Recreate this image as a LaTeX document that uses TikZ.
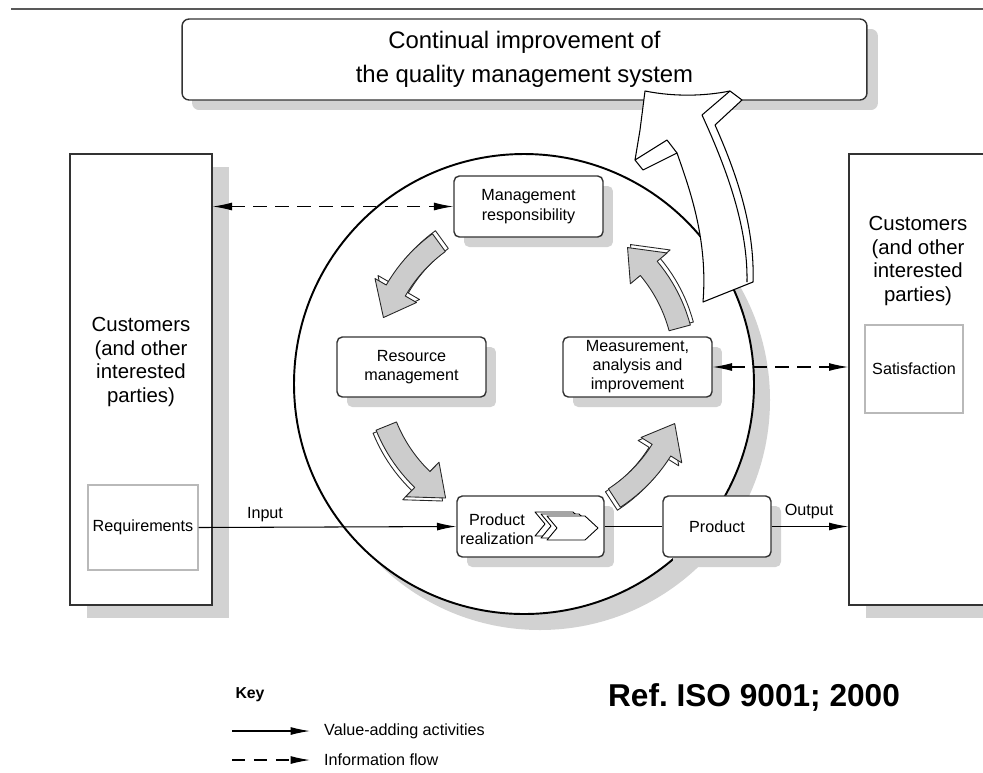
\documentclass[tikz,border=0pt]{standalone}
\usepackage{fontspec}
\setmainfont{Liberation Sans}
\usetikzlibrary{arrows.meta,shadows}

\begin{document}
\begin{tikzpicture}[x=0.02cm, y=-0.02cm, % pixel-like units, y grows downward
    >={Latex[length=11pt,width=4.5pt]},
    box/.style={draw=black!80, fill=white, rounded corners=3pt, line width=0.8pt,
      align=center, inner sep=0pt, font=\fontsize{9.2}{11}\selectfont,
      general shadow={fill=gray!35, shadow xshift=0.2cm, shadow yshift=-0.2cm}},
    party/.style={draw=black!80, fill=white, line width=0.8pt, inner sep=0pt,
      general shadow={fill=gray!35, shadow xshift=0.34cm, shadow yshift=-0.26cm}},
    inbox/.style={draw=gray!55, fill=white, line width=0.6pt, inner sep=0pt,
      font=\fontsize{9.2}{11}\selectfont},
    partytext/.style={align=center, font=\fontsize{11.6}{13.4}\selectfont},
    small/.style={font=\fontsize{9.2}{11}\selectfont},
    flow/.style={->, line width=0.6pt},
    info/.style={line width=0.6pt, dash pattern=on 7.5pt off 5pt},
    ring/.style={draw=black, fill=white, line width=1.1pt,
      general shadow={fill=gray!35, shadow xshift=0.32cm, shadow yshift=-0.32cm}},
    ringfront/.style={draw=black!85, fill=gray!40, line width=0.5pt, line join=round},
    ringback/.style={draw=black!85, fill=white, line width=0.5pt, line join=round},
    ringarrow/.style={insert path={
      plot[domain=\ta:\hb, samples=12] ({530+166*cos(\x)}, {368+166*sin(\x)})
      -- ({530+179*cos(\hb)}, {368+179*sin(\hb)})
      -- ({530+155*cos(\tb)}, {368+155*sin(\tb)})
      -- ({530+131*cos(\hb)}, {368+131*sin(\hb)})
      -- plot[domain=\hb:\ta, samples=12] ({530+144*cos(\x)}, {368+144*sin(\x)})
      -- cycle}},
    bigarrow/.style={draw=black, fill=white, line width=0.6pt, line join=round},
    chevron/.style={draw=black, fill=white, line width=0.5pt, line join=round}
  ]

  \path[use as bounding box] (0,0) rectangle (983,772);
  \clip (0,0) rectangle (983,772);

  % Rule at the top
  \draw[gray!70!black, line width=1.2pt] (11,9) -- (983,9);

  % Continual improvement
  \node[box, rounded corners=4pt, minimum width=13.7cm, minimum height=1.62cm,
    font=\fontsize{13.6}{19}\selectfont,
    general shadow={fill=gray!35, shadow xshift=0.22cm, shadow yshift=-0.2cm}]
    (topbox) at (524.5,59.5) {Continual improvement of\\the quality management system};

  % Customers on both sides
  \node[party, minimum width=2.84cm, minimum height=9.02cm] (custL) at (141,379.5) {};
  \node[partytext] (custLtext) at (141,362) {Customers\\(and other\\interested\\parties)};
  \node[inbox, minimum width=2.2cm, minimum height=1.7cm] (req) at (143,527.5) {Requirements};

  \node[party, minimum width=3.4cm, minimum height=9.02cm] (custR) at (934,379.5) {};
  \node[partytext] (custRtext) at (918,261) {Customers\\(and other\\interested\\parties)};
  \node[inbox, minimum width=1.96cm, minimum height=1.76cm] (sat) at (914,369) {Satisfaction};

  % The big circle
  \coordinate (hub) at (524,384);
  \draw[ring] (hub) circle[radius=230];

  % Boxes inside the circle
  \node[box, minimum width=2.98cm, minimum height=1.22cm] (mgmt) at (528.5,206.5)
    {Management\\responsibility};
  \node[box, minimum width=2.98cm, minimum height=1.2cm] (res) at (411.5,367)
    {Resource\\management};
  \node[box, minimum width=2.98cm, minimum height=1.2cm,
    font=\fontsize{9.2}{10.8}\selectfont] (meas) at (637.5,367)
    {Measurement,\\analysis and\\improvement};
  \node[box, minimum width=2.94cm, minimum height=1.22cm] (real) at (530.5,526.5) {};
  \node[small, align=center, inner sep=0pt] (realtext) at (497,529.5) {Product\\realization};
  \node[box, minimum width=2.16cm, minimum height=1.22cm] (prod) at (717,526.5) {Product};

  % Chevrons in product realization
  \foreach \s in {2,1,0}
    \draw[chevron, shift={(-6*\s,-2*\s)}] (547,516) -- (585,516) -- (598,528)
      -- (585,540) -- (547,540) -- (557,528) -- cycle;

  % Value-adding activities
  \draw[flow] (req.east) -- (real.west);
  \node[small] (inlabel) at (265,515) {Input};
  \draw[line width=0.6pt] (real.east) -- (prod.west);
  \draw[flow] (prod.east) -- (prod.east -| custR.west);
  \node[small] (outlabel) at (809,512) {Output};

  % Information flow
  \draw[info, <->] (mgmt.west -| custL.east) -- (mgmt.west);
  \draw[info, <->] (meas.east) -- (meas.east -| custR.west);

  % Grey arrows round the cycle: tail/tip/head base/shift
  \foreach \ta/\tb/\hb/\dx/\dy in {234/199/210/3/-3, 158/123/134/-3/3,
                                   57/21/32/-3/3, 345/309/320/3/-3}{
    \path[ringback, shift={(\dx,\dy)}, ringarrow];
    \path[ringfront, ringarrow];
  }

  % Improvement arrow up to the top box
  \draw[bigarrow] (703,302) .. controls (708,240) and (690,190) .. (677,153)
    -- (643,170) -- (635,160) -- (640,130) -- (645,91)
    .. controls (675,97) and (705,96) .. (730,91) -- (742,100) -- (715,125)
    .. controls (735,170) and (755,225) .. (753,282) -- cycle;
  \draw[bigarrow, fill=none] (635,160) -- (667,140) -- (677,153);
  \draw[bigarrow, fill=none] (730,91) -- (702,115)
    .. controls (725,165) and (748,225) .. (747,282);

  % Key
  \node[font=\bfseries\fontsize{9}{11}\selectfont] (key) at (250,695) {Key};
  \coordinate (keyA) at (232,731);
  \coordinate (keyB) at (310,731);
  \draw[flow] (keyA) -- (keyB);
  \node[small, anchor=west] (keyflow) at (318,731) {Value-adding activities};
  \coordinate (keyC) at (232,760);
  \coordinate (keyD) at (310,760);
  \draw[info, ->] (keyC) -- (keyD);
  \node[small, anchor=west] (keyinfo) at (318,760) {Information flow};

  % Reference
  \node[font=\bfseries\fontsize{18}{20}\selectfont] (iso) at (754,697) {Ref.\ ISO 9001; 2000};

\end{tikzpicture}
\end{document}
